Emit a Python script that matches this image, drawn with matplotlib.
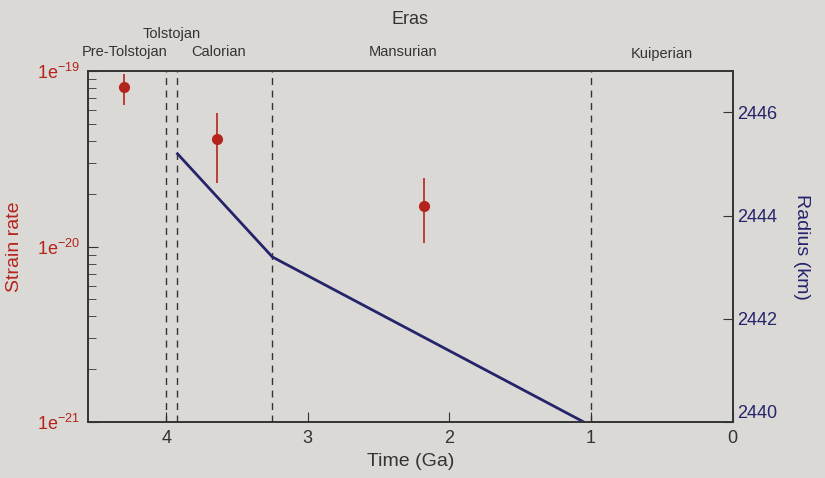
import math
import matplotlib.pyplot as plt
from matplotlib.ticker import LogLocator, FixedLocator, FuncFormatter
import matplotlib.transforms as mtransforms

plt.rcParams['font.family'] = ['Liberation Sans', 'DejaVu Sans']

# era boundaries (Ga) and labels
limites = [4.0, 3.92, 3.25, 1.0]
eras = ["Pre-Tolstojan", "Tolstojan", "Calorian", "Mansurian", "Kuiperian"]
eras_x = [4.29, 3.96, 3.63, 2.33, 0.5]
eras_alto = [0.035, 0.085, 0.035, 0.035, 0.03]

# strain rate estimates with error bars
t_taxa = [4.30, 3.64, 2.18]
taxa = [8.1e-20, 4.1e-20, 1.7e-20]
taxa_min = [6.4e-20, 2.3e-20, 1.05e-20]
taxa_max = [9.6e-20, 5.75e-20, 2.45e-20]

# planetary radius
t_raio = [3.92, 3.25, 1.05]
raio = [2445.2, 2443.2, 2440.0]

papel = "#dbd9d6"
vermelho = "#b5231d"
azul = "#25246b"
cinza = "#333333"

fig = plt.figure(figsize=(8.25, 4.78), dpi=100, facecolor=papel)
ax = fig.add_axes([0.107, 0.117, 0.781, 0.734])
ax.set_facecolor(papel)

err_baixo = [v - lo for v, lo in zip(taxa, taxa_min)]
err_alto = [hi - v for v, hi in zip(taxa, taxa_max)]
ax.errorbar(t_taxa, taxa, yerr=[err_baixo, err_alto], fmt="o", color=vermelho,
            ecolor=vermelho, elinewidth=1.2, markersize=7, capsize=0, zorder=3)

ax.set_yscale("log")
ax.set_ylim(1e-21, 1e-19)
ax.set_xlim(4.55, 0)
ax.set_xticks([4, 3, 2, 1, 0])
ax.yaxis.set_major_locator(FixedLocator([1e-21, 1e-20, 1e-19]))
ax.yaxis.set_minor_locator(LogLocator(base=10, subs=range(2, 10)))
ax.yaxis.set_minor_formatter(FuncFormatter(lambda v, p: ""))
ax.yaxis.set_major_formatter(FuncFormatter(
    lambda v, p: r"1e$^{\mathregular{%d}}$" % round(math.log10(v))))

for b in limites:
    ax.axvline(b, color=cinza, linestyle=(0, (5, 4)), linewidth=1.0, zorder=1)

ax.tick_params(axis="both", which="both", direction="in", colors=cinza, labelsize=13)
ax.tick_params(axis="y", which="major", length=7, labelcolor=vermelho, pad=6)
ax.tick_params(axis="y", which="minor", length=6)
ax.tick_params(axis="x", length=7, labelcolor=cinza, pad=6)
for s in ax.spines.values():
    s.set_color(cinza)
    s.set_linewidth(1.2)

ax.set_xlabel("Time (Ga)", fontsize=14, color=cinza, labelpad=4)
ax.set_ylabel("Strain rate", fontsize=14, color=vermelho, labelpad=10)

ax2 = ax.twinx()
ax2.plot(t_raio, raio, color=azul, linewidth=2)
ax2.set_ylim(2440, 2446.8)
ax2.set_yticks([2440, 2442, 2444, 2446])
ax2.tick_params(axis="y", direction="in", length=7, colors=cinza,
                labelcolor=azul, labelsize=13, pad=3)
ax2.set_ylabel("Radius (km)", fontsize=14, color=azul, rotation=270, labelpad=24)
ax2.get_yticklabels()[0].set_va("bottom")
for s in ax2.spines.values():
    s.set_color(cinza)
    s.set_linewidth(1.2)

trans = mtransforms.blended_transform_factory(ax.transData, ax.transAxes)
for nome, x, h in zip(eras, eras_x, eras_alto):
    ax.text(x, 1 + h, nome, transform=trans, ha="center", va="bottom",
            fontsize=10.5, color=cinza)

ax.set_title("Eras", fontsize=13, color=cinza, pad=34)

fig.savefig("out.png", dpi=100, facecolor=papel)
